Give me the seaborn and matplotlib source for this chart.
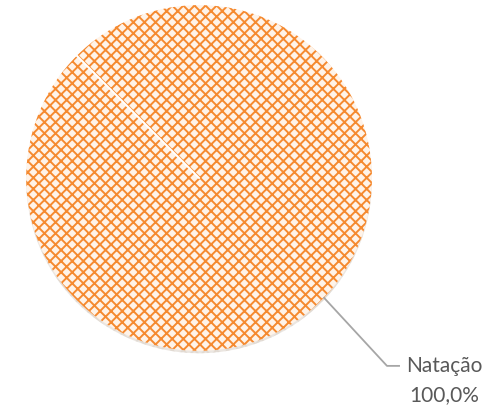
import matplotlib
matplotlib.use('Agg')
import matplotlib.pyplot as plt
import numpy as np
import seaborn as sns

# chart data
categories = ['Natação']
values = [100.0]
start_angle = 135

sns.set_theme(style='white')
plt.rcParams['font.family'] = ['Lato', 'DejaVu Sans']
plt.rcParams['hatch.linewidth'] = 1.4

orange = '#F58A30'
fig = plt.figure(figsize=(5.04, 4.07), dpi=100)
ax = fig.add_axes([0.052, 0.1377, 0.686, 0.850])

# hatched slice
wedges, _ = ax.pie(values, startangle=start_angle, counterclock=False, radius=1,
                   colors=['#FFF3E8'], wedgeprops=dict(edgecolor=orange, linewidth=0, hatch='xxx'),
                   shadow={'ox': 0.0, 'oy': -0.01, 'shade': 0.15})

# white slice border (radial edge of the single slice)
a = np.deg2rad(start_angle)
ax.plot([0, np.cos(a)], [0, np.sin(a)], color='white', lw=1.5)

ax.set_xlim(-1, 1)
ax.set_ylim(-1, 1)
ax.set_aspect('equal')
ax.axis('off')

# leader line + label
ax.plot([0.72, 1.087, 1.162], [-0.69, -1.087, -1.087], color='#A6A6A6', lw=1.3,
        clip_on=False, solid_capstyle='butt')
pct = f"{values[0]:.1f}%".replace('.', ',')
ax.text(1.416, -1.087, categories[0], ha='center', va='center', fontsize=15,
        color='#595959', clip_on=False)
ax.text(1.416, -1.255, pct, ha='center', va='center', fontsize=15,
        color='#595959', clip_on=False)

fig.savefig('out.png', dpi=100)
